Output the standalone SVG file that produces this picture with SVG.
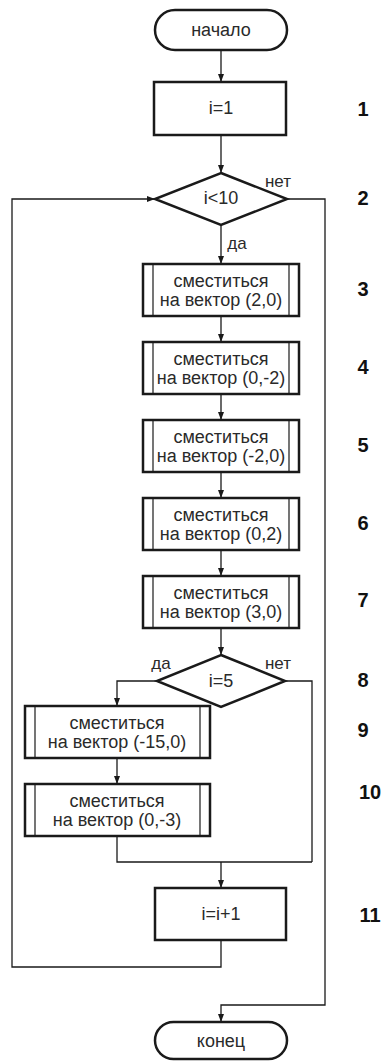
<svg xmlns="http://www.w3.org/2000/svg" width="382" height="1061" viewBox="0 0 382 1061">
<style>
.shape{fill:#fff;stroke:#1a1a1a;stroke-width:2.5}
.inner{stroke:#1a1a1a;stroke-width:1.2}
.conn{fill:none;stroke:#1a1a1a;stroke-width:1.3}
.t{font-family:"Liberation Sans",Arial,sans-serif;font-size:18px;fill:#2a2a2a;text-anchor:middle;dominant-baseline:central}
.lbl{font-family:"Liberation Sans",Arial,sans-serif;font-size:17px;fill:#2a2a2a;text-anchor:middle;dominant-baseline:central}
.num{font-family:"Liberation Sans",Arial,sans-serif;font-size:20px;font-weight:bold;fill:#111;text-anchor:middle;dominant-baseline:central}
</style>
<defs>
<marker id="arr" markerWidth="8" markerHeight="6" refX="8" refY="3" orient="auto" markerUnits="userSpaceOnUse">
<path d="M0,0 L8,3 L0,6 z" fill="#1a1a1a"/>
</marker>
</defs>
<rect width="382" height="1061" fill="#fff"/>
<g id="connectors">
<line class="conn" x1="221" y1="50" x2="221" y2="82" marker-end="url(#arr)"/>
<line class="conn" x1="221" y1="135" x2="221" y2="173" marker-end="url(#arr)"/>
<line class="conn" x1="221" y1="225" x2="221" y2="264" marker-end="url(#arr)"/>
<line class="conn" x1="221" y1="316" x2="221" y2="342" marker-end="url(#arr)"/>
<line class="conn" x1="221" y1="394" x2="221" y2="420" marker-end="url(#arr)"/>
<line class="conn" x1="221" y1="472" x2="221" y2="498" marker-end="url(#arr)"/>
<line class="conn" x1="221" y1="550" x2="221" y2="576" marker-end="url(#arr)"/>
<line class="conn" x1="221" y1="628" x2="221" y2="655" marker-end="url(#arr)"/>
<polyline class="conn" points="157,681 117,681 117,706" marker-end="url(#arr)"/>
<line class="conn" x1="117" y1="758" x2="117" y2="784" marker-end="url(#arr)"/>
<polyline class="conn" points="117,836 117,862 312,862"/>
<polyline class="conn" points="285,681 312,681 312,862"/>
<line class="conn" x1="221" y1="862" x2="221" y2="888" marker-end="url(#arr)"/>
<polyline class="conn" points="221,940 221,967 12,967 12,199 155,199" marker-end="url(#arr)"/>
<polyline class="conn" points="287,199 325,199 325,1005 221,1005 221,1022" marker-end="url(#arr)"/>
<text class="lbl" x="278" y="181">нет</text>
<text class="lbl" x="237" y="243">да</text>
<text class="lbl" x="161" y="663">да</text>
<text class="lbl" x="278" y="663">нет</text>
</g>
<g id="start">
<rect class="shape" x="155" y="10" width="132" height="40" rx="20"/>
<text class="t" x="221" y="30">начало</text>
</g>
<g id="n1">
<rect class="shape" x="154" y="82" width="132" height="53"/>
<text class="t" x="221" y="108">i=1</text>
<text class="num" x="363" y="109">1</text>
</g>
<g id="n2">
<polygon class="shape" points="221,173 287,199 221,225 155,199"/>
<text class="t" x="221" y="198">i&lt;10</text>
<text class="num" x="363" y="198">2</text>
</g>
<g id="n3">
<rect class="shape" x="143" y="264" width="156" height="52"/>
<line class="inner" x1="153" y1="264" x2="153" y2="316"/>
<line class="inner" x1="289" y1="264" x2="289" y2="316"/>
<text class="t" x="221" y="281">сместиться</text>
<text class="t" x="221" y="300">на вектор (2,0)</text>
<text class="num" x="363" y="289">3</text>
</g>
<g id="n4">
<rect class="shape" x="143" y="342" width="156" height="52"/>
<line class="inner" x1="153" y1="342" x2="153" y2="394"/>
<line class="inner" x1="289" y1="342" x2="289" y2="394"/>
<text class="t" x="221" y="359">сместиться</text>
<text class="t" x="221" y="378">на вектор (0,-2)</text>
<text class="num" x="363" y="367">4</text>
</g>
<g id="n5">
<rect class="shape" x="143" y="420" width="156" height="52"/>
<line class="inner" x1="153" y1="420" x2="153" y2="472"/>
<line class="inner" x1="289" y1="420" x2="289" y2="472"/>
<text class="t" x="221" y="437">сместиться</text>
<text class="t" x="221" y="456">на вектор (-2,0)</text>
<text class="num" x="363" y="445">5</text>
</g>
<g id="n6">
<rect class="shape" x="143" y="498" width="156" height="52"/>
<line class="inner" x1="153" y1="498" x2="153" y2="550"/>
<line class="inner" x1="289" y1="498" x2="289" y2="550"/>
<text class="t" x="221" y="515">сместиться</text>
<text class="t" x="221" y="534">на вектор (0,2)</text>
<text class="num" x="363" y="523">6</text>
</g>
<g id="n7">
<rect class="shape" x="143" y="576" width="156" height="52"/>
<line class="inner" x1="153" y1="576" x2="153" y2="628"/>
<line class="inner" x1="289" y1="576" x2="289" y2="628"/>
<text class="t" x="221" y="593">сместиться</text>
<text class="t" x="221" y="612">на вектор (3,0)</text>
<text class="num" x="363" y="600">7</text>
</g>
<g id="n8">
<polygon class="shape" points="221,655 285,681 221,707 157,681"/>
<text class="t" x="221" y="681">i=5</text>
<text class="num" x="363" y="680">8</text>
</g>
<g id="n9">
<rect class="shape" x="25" y="706" width="185" height="52"/>
<line class="inner" x1="35" y1="706" x2="35" y2="758"/>
<line class="inner" x1="200" y1="706" x2="200" y2="758"/>
<text class="t" x="117" y="723">сместиться</text>
<text class="t" x="117" y="742">на вектор (-15,0)</text>
<text class="num" x="363" y="730">9</text>
</g>
<g id="n10">
<rect class="shape" x="25" y="784" width="185" height="52"/>
<line class="inner" x1="35" y1="784" x2="35" y2="836"/>
<line class="inner" x1="200" y1="784" x2="200" y2="836"/>
<text class="t" x="117" y="801">сместиться</text>
<text class="t" x="117" y="820">на вектор (0,-3)</text>
<text class="num" x="370" y="792">10</text>
</g>
<g id="n11">
<rect class="shape" x="155" y="888" width="131" height="52"/>
<text class="t" x="221" y="914">i=i+1</text>
<text class="num" x="370" y="915">11</text>
</g>
<g id="end">
<rect class="shape" x="155" y="1022" width="132" height="37" rx="18.5"/>
<text class="t" x="221" y="1041">конец</text>
</g>
</svg>
